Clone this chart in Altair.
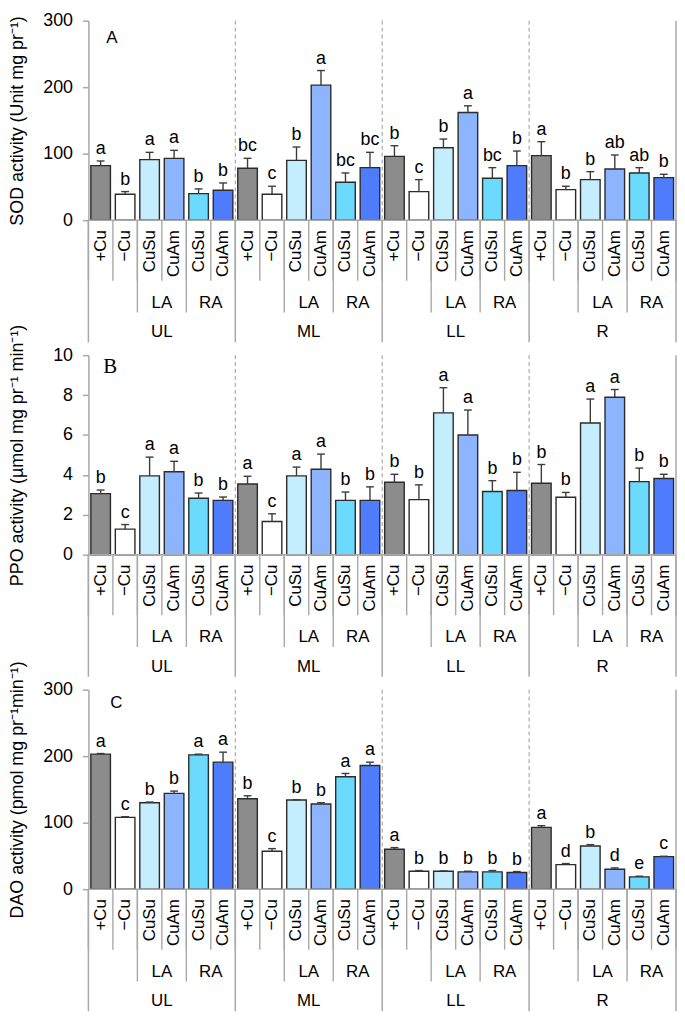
import altair as alt
import pandas as pd

organs = ["UL", "ML", "LL", "R"]
treatments = ["+Cu", "−Cu", "CuSu", "CuAm", "CuSu", "CuAm"]
categories = ["+Cu", "−Cu", "CuSu LA", "CuAm LA", "CuSu RA", "CuAm RA"]
bar_colors = ["#8c8c8c", "#ffffff", "#c4eefd", "#8db4fe", "#6cdafc", "#4f7cfd"]
groups = ["LA", "RA"]

sod_mean = [82, 39, 91, 93, 40, 45,
            78, 39, 90, 203, 57, 79,
            96, 43, 109, 162, 63, 82,
            97, 46, 61, 77, 71, 64]
sod_err = [7, 4, 11, 12, 7, 11,
           15, 12, 20, 22, 14, 23,
           16, 18, 13, 10, 16, 22,
           21, 5, 12, 21, 8, 5]
sod_letters = ["a", "b", "a", "a", "b", "b",
               "bc", "c", "b", "a", "bc", "bc",
               "b", "c", "b", "a", "bc", "b",
               "a", "b", "b", "ab", "ab", "b"]

ppo_mean = [3.06, 1.28, 3.95, 4.16, 2.83, 2.72,
            3.54, 1.66, 3.95, 4.28, 2.72, 2.72,
            3.63, 2.76, 7.11, 6.00, 3.17, 3.22,
            3.58, 2.88, 6.60, 7.89, 3.66, 3.82]
ppo_err = [0.18, 0.23, 0.94, 0.52, 0.26, 0.17,
           0.39, 0.39, 0.44, 0.76, 0.42, 0.68,
           0.40, 0.74, 1.26, 1.25, 0.54, 0.91,
           0.94, 0.24, 1.20, 0.39, 0.68, 0.21]
ppo_letters = ["b", "c", "a", "a", "b", "b",
               "a", "c", "a", "a", "b", "b",
               "b", "b", "a", "a", "b", "b",
               "b", "b", "a", "a", "b", "b"]

dao_mean = [203, 108, 130, 144, 202, 191,
            136, 57, 134, 128, 169, 186,
            60, 27, 27, 26, 26, 25,
            93, 37, 65, 30, 18.5, 49]
dao_err = [1, 1, 1, 3.5, 1, 15,
           4.5, 4, 0.5, 2, 5, 5,
           2.5, 1, 0.5, 1, 2, 1.5,
           2.5, 1.5, 2, 2, 1, 0.5]
dao_letters = ["a", "c", "b", "b", "a", "a",
               "b", "c", "b", "b", "a", "a",
               "a", "b", "b", "b", "b", "b",
               "a", "d", "b", "d", "e", "c"]

H = 201
W = 592
FONT = "Liberation Sans"
SEP = "#a8a8a8"
ERR = "#3c3c3c"
TICK_LEN, GROUP_LEN, ORGAN_LEN = 61, 93, 123
GAP = 136

xs = alt.Scale(domain=[0, 24], nice=False, zero=False)


def panel(mean, err, letters, ymax, yticks, ytitle, tag, tag_font, tag_size, tag_x, tag_y):
    rows = []
    for o, organ in enumerate(organs):
        for t in range(6):
            i = o * 6 + t
            rows.append(dict(i=i, organ=organ, treat=treatments[t], cat=categories[t],
                             x0=i + 0.1, x1=i + 0.9, xc=i + 0.5, cl=i + 0.34, cr=i + 0.66,
                             zero=0, mean=mean[i], hi=mean[i] + err[i], letter=letters[i]))
    df = pd.DataFrame(rows)
    bnd = pd.DataFrame({"b": list(range(25))})
    bnd["m"] = bnd["b"] % 6
    grp_rows = []
    for o, organ in enumerate(organs):
        for g, name in enumerate(groups):
            grp_rows.append(dict(x=o * 6 + 3 + 2 * g, label=name))
    grp = pd.DataFrame(grp_rows)
    org = pd.DataFrame({"x": [o * 6 + 3 for o in range(4)], "label": organs})
    base_df = pd.DataFrame({"a": [0], "b": [24], "v": [0]})

    ys = alt.Scale(domain=[0, ymax], nice=False, zero=True)
    yaxis = alt.Axis(values=yticks, grid=False, domainColor=SEP, domainWidth=1.5,
                     tickColor=SEP, tickWidth=1.5, tickSize=6,
                     labelFont=FONT, labelFontSize=18, labelColor="black",
                     labelPadding=10, labelFlush=False, labelOverlap=False, format="d",
                     titleFont=FONT, titleFontSize=18, titleFontWeight="normal",
                     titleColor="black", titleAngle=270, titleX=-71, titleY=H / 2,
                     titleAlign="center", titleBaseline="middle")
    yk = dict(scale=ys, title=ytitle, axis=yaxis)

    bars = alt.Chart(df).mark_bar(stroke="#2b2b2b", strokeWidth=1.4).encode(
        x=alt.X("x0:Q", scale=xs, axis=None),
        x2="x1:Q",
        y=alt.Y("mean:Q", **yk),
        y2="zero:Q",
        color=alt.Color("cat:N", scale=alt.Scale(domain=categories, range=bar_colors), legend=None),
    )
    dashed = alt.Chart(bnd).transform_filter(
        "datum.m == 0 && datum.b > 0 && datum.b < 24"
    ).mark_rule(color="#9a9a9a", strokeWidth=1, strokeDash=[4, 3]).encode(
        x=alt.X("b:Q", scale=xs, axis=None), y=alt.value(0), y2=alt.value(H))
    errs = alt.Chart(df).mark_rule(color=ERR, strokeWidth=1.4).encode(
        x=alt.X("xc:Q", scale=xs, axis=None),
        y=alt.Y("mean:Q", **yk), y2="hi:Q")
    caps = alt.Chart(df).mark_rule(color=ERR, strokeWidth=1.4).encode(
        x=alt.X("cl:Q", scale=xs, axis=None), x2="cr:Q",
        y=alt.Y("hi:Q", **yk))
    lets = alt.Chart(df).mark_text(font=FONT, fontSize=18, baseline="bottom", dy=-3,
                                   color="black").encode(
        x=alt.X("xc:Q", scale=xs, axis=None),
        y=alt.Y("hi:Q", **yk), text="letter:N")

    baseline = alt.Chart(base_df).mark_rule(color=SEP, strokeWidth=1.5).encode(
        x=alt.X("a:Q", scale=xs, axis=None), x2="b:Q",
        y=alt.Y("v:Q", **yk))
    ticks = alt.Chart(bnd).mark_rule(color=SEP, strokeWidth=1.4).encode(
        x=alt.X("b:Q", scale=xs, axis=None), y=alt.value(H), y2=alt.value(H + TICK_LEN))
    gticks = alt.Chart(bnd).transform_filter("datum.m == 2 || datum.m == 4").mark_rule(
        color=SEP, strokeWidth=1.4).encode(
        x=alt.X("b:Q", scale=xs, axis=None), y=alt.value(H), y2=alt.value(H + GROUP_LEN))
    oticks = alt.Chart(bnd).transform_filter("datum.m == 0").mark_rule(
        color=SEP, strokeWidth=1.5).encode(
        x=alt.X("b:Q", scale=xs, axis=None), y=alt.value(H), y2=alt.value(H + ORGAN_LEN))
    rborder = alt.Chart(bnd).transform_filter("datum.b == 24").mark_rule(
        color=SEP, strokeWidth=1.5).encode(
        x=alt.X("b:Q", scale=xs, axis=None), y=alt.value(0), y2=alt.value(H))

    tlab = alt.Chart(df).mark_text(font=FONT, fontSize=17, angle=270, align="right",
                                   baseline="middle", color="black").encode(
        x=alt.X("xc:Q", scale=xs, axis=None), y=alt.value(H + 10), text="treat:N")
    glab = alt.Chart(grp).mark_text(font=FONT, fontSize=17, baseline="middle",
                                    color="black").encode(
        x=alt.X("x:Q", scale=xs, axis=None), y=alt.value(H + 83), text="label:N")
    olab = alt.Chart(org).mark_text(font=FONT, fontSize=17, baseline="middle",
                                    color="black").encode(
        x=alt.X("x:Q", scale=xs, axis=None), y=alt.value(H + 113), text="label:N")
    tagc = alt.Chart(pd.DataFrame({"tag": [tag]})).mark_text(
        font=tag_font, fontSize=tag_size, align="left", baseline="middle", color="black").encode(
        x=alt.value(tag_x), y=alt.value(tag_y), text="tag:N")

    return alt.layer(bars, dashed, errs, caps, lets, baseline, ticks, gticks, oticks,
                     rborder, tlab, glab, olab, tagc).properties(width=W, height=H)


pA = panel(sod_mean, sod_err, sod_letters, 300, [0, 100, 200, 300],
           "SOD activity (Unit mg pr⁻¹)", "A", FONT, 17, 18, 17)
pB = panel(ppo_mean, ppo_err, ppo_letters, 10, [0, 2, 4, 6, 8, 10],
           "PPO activity (µmol mg pr⁻¹ min⁻¹)", "B", "Liberation Serif", 21, 15, 12)
pC = panel(dao_mean, dao_err, dao_letters, 300, [0, 100, 200, 300],
           "DAO activity (pmol mg pr⁻¹min⁻¹)", "C", FONT, 17, 22, 13)

chart = alt.vconcat(pA, pB, pC, spacing=GAP, bounds="flush").properties(
    padding=0).configure_view(strokeWidth=0)

chart.save("out.html", embed_options={"renderer": "svg", "actions": False})
